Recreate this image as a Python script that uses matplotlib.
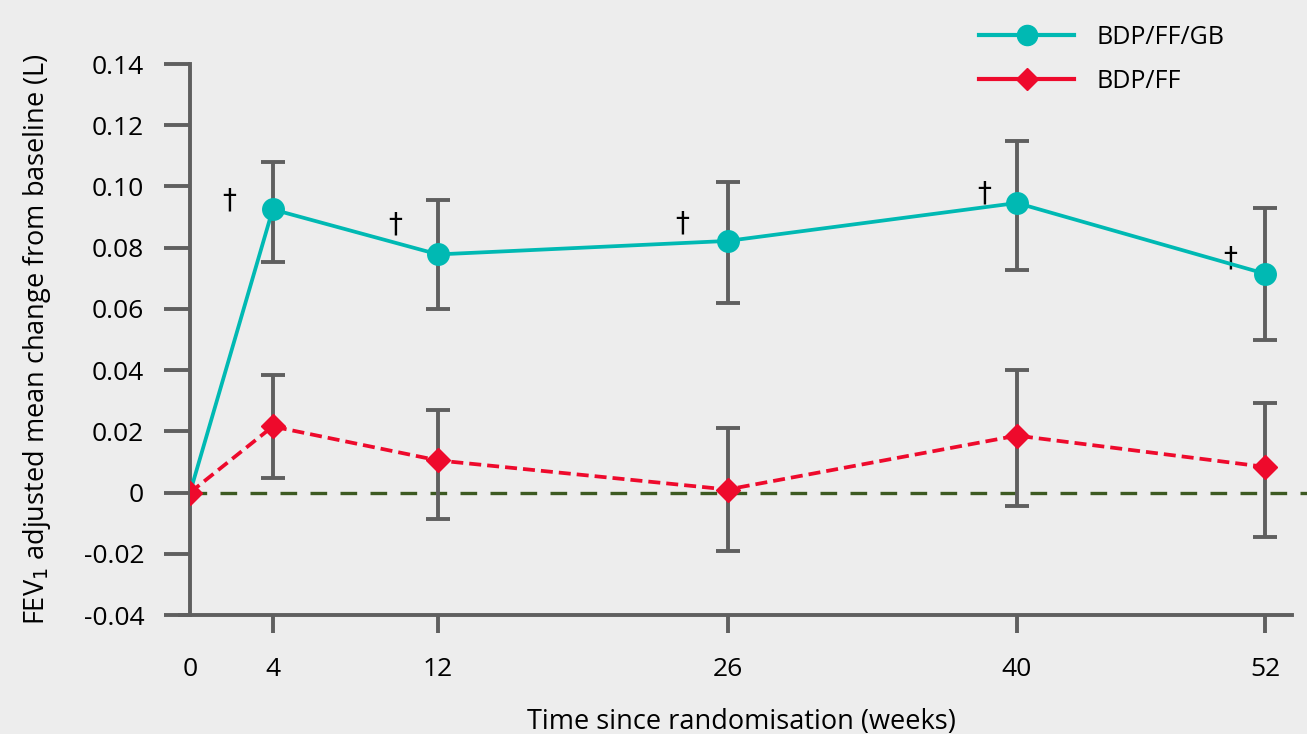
import matplotlib
matplotlib.use('Agg')
import matplotlib.pyplot as plt
from matplotlib.lines import Line2D
import numpy as np

# Data
weeks = [0, 4, 12, 26, 40, 52]

gb_mean = [0.0, 0.0925, 0.0778, 0.0822, 0.0946, 0.0715]
gb_upper = [np.nan, 0.1080, 0.0957, 0.1016, 0.1150, 0.0928]
gb_lower = [np.nan, 0.0753, 0.0600, 0.0620, 0.0728, 0.0500]

ff_mean = [0.0, 0.0216, 0.0105, 0.0010, 0.0186, 0.0084]
ff_upper = [np.nan, 0.0384, 0.0270, 0.0210, 0.0400, 0.0292]
ff_lower = [np.nan, 0.0048, -0.0085, -0.0192, -0.0045, -0.0145]

# dagger marks (significance)
dagger_x = [1.9, 9.9, 23.8, 38.4, 50.3]
dagger_y = [0.0955, 0.0875, 0.0880, 0.0978, 0.0765]

yticks = [-0.04, -0.02, 0, 0.02, 0.04, 0.06, 0.08, 0.10, 0.12, 0.14]
ytick_labels = ['-0.04', '-0.02', '0', '0.02', '0.04', '0.06', '0.08', '0.10', '0.12', '0.14']

BG = '#ededed'
GREY = '#5f5f5f'
CYAN = '#00b9b3'
RED = '#ee0a2c'
GREEN = '#3d5a22'

plt.rcParams['font.family'] = ['Open Sans', 'DejaVu Sans']

fig = plt.figure(figsize=(13.07, 7.34), dpi=100, facecolor=BG)
ax = fig.add_axes([0.1454, 0.1621, 0.843, 0.7507])
ax.set_facecolor(BG)

ax.set_xlim(0, 53.3)
ax.set_ylim(-0.04, 0.14)

# reference line at zero, runs on to the figure edge
ax.plot([0, 54.5], [0, 0], color=GREEN, lw=2.4, linestyle=(0, (5, 4)),
        zorder=1, clip_on=False)

# error bars
def err(mean, up, lo):
    m = np.array(mean)
    return [m - np.array(lo), np.array(up) - m]

ax.errorbar(weeks, gb_mean, yerr=err(gb_mean, gb_upper, gb_lower), fmt='none',
            ecolor=GREY, elinewidth=2.8, capsize=8.5, capthick=2.8, zorder=2)
ax.errorbar(weeks, ff_mean, yerr=err(ff_mean, ff_upper, ff_lower), fmt='none',
            ecolor=GREY, elinewidth=2.8, capsize=8.5, capthick=2.8, zorder=2)

# series
ax.plot(weeks[1:], gb_mean[1:], color=CYAN, lw=2.7, marker='o', markersize=15.5, zorder=4)
ax.plot(weeks[:2], gb_mean[:2], color=CYAN, lw=2.7, zorder=3)
ax.plot(weeks, ff_mean, color=RED, lw=2.7, linestyle=(0, (3.2, 1.6)), marker='D',
        markersize=12, zorder=5)

for x, y in zip(dagger_x, dagger_y):
    ax.text(x, y, '\u2020', fontsize=20, ha='center', va='center', color='black',
            family=['DejaVu Sans'])

# axes styling
for side in ['top', 'right']:
    ax.spines[side].set_visible(False)
for side in ['left', 'bottom']:
    ax.spines[side].set_color(GREY)
    ax.spines[side].set_linewidth(2.8)
ax.spines['bottom'].set_bounds(-0.5, 53.3)

ax.set_xticks(weeks)
ax.set_xticklabels([str(w) for w in weeks])
ax.set_yticks(yticks)
ax.set_yticklabels(ytick_labels)
ax.tick_params(axis='y', length=19, width=2.8, color=GREY, pad=14, labelsize=19)
ax.tick_params(axis='x', length=13, width=2.8, color=GREY, pad=17, labelsize=19)
ax.xaxis.get_major_ticks()[0].tick1line.set_visible(False)

ax.set_xlabel('Time since randomisation (weeks)', fontsize=19.5, labelpad=19)
ax.set_ylabel('FEV$_1$ adjusted mean change from baseline (L)', fontsize=19.5, labelpad=22)

handles = [
    Line2D([], [], color=CYAN, lw=3, marker='o', markersize=14.5),
    Line2D([], [], color=RED, lw=3, marker='D', markersize=11.5),
]
ax.legend(handles, ['BDP/FF/GB', 'BDP/FF'], loc='upper left',
          bbox_to_anchor=(0.696, 1.112), frameon=False, fontsize=18,
          handlelength=3.8, labelspacing=0.75, handletextpad=0.9)

fig.savefig('out.png', dpi=100, facecolor=BG)
